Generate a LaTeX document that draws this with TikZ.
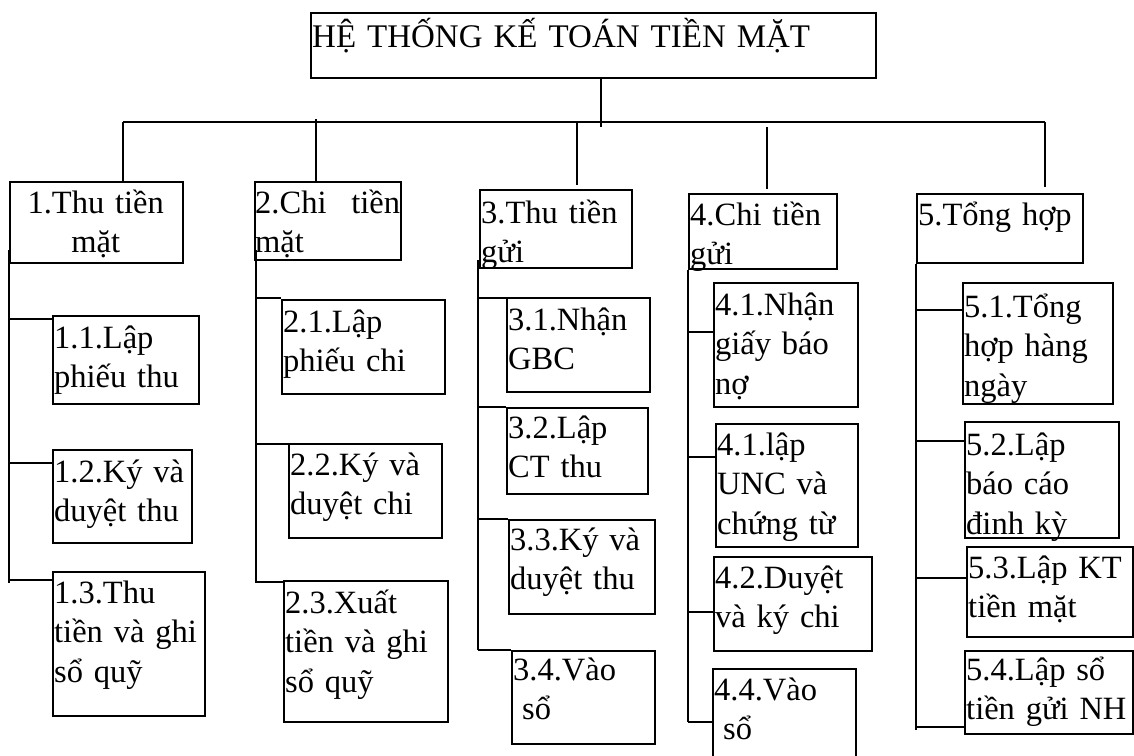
\documentclass[tikz,border=0pt]{standalone}
\usepackage{fontspec}
\setmainfont{Liberation Serif}
\newcommand\fs{\fontsize{32.5}{39.5}\selectfont}
\tikzset{
  box/.style={draw, line width=1.7pt, inner sep=0pt},
  txt/.style={anchor=base west, inner sep=0pt, text width=220pt, align=left, font=\fs},
  con/.style={line width=1.7pt}
}
% name, x1, y1, x2, y2, trunk, connector y, baseline, text
\newcommand\sub[9]{%
  \node[box, anchor=north west, minimum width={#4-#2}, minimum height={#5-#3}] (#1) at (#2,#3) {};
  \node[txt] (#1t) at ({#2+2},#8) {#9};
  \draw[con] (#6 |- 0,#7) -- (#1.west |- 0,#7);
}
\newcommand\topbox[5]{%
  \node[box, anchor=north west, minimum width={#4-#2}, minimum height={#5-#3}] (#1) at (#2,#3) {};
}
\begin{document}
\begin{tikzpicture}[x=1pt,y=-1pt]
\useasboundingbox (0,0) rectangle (1134,755);
% title
\topbox{title}{310}{12}{875}{77}
\node[txt, text width=560pt, font=\fontsize{33}{39}\selectfont] (titlet) at (312,47) {HỆ THỐNG KẾ TOÁN TIỀN MẶT};
% level 1 boxes
\topbox{p1}{9}{181}{182}{262}
\node[txt, text width=173pt, align=center] (p1t) at (9,213) {1.Thu tiền\\mặt};
\topbox{p2}{254}{181}{400}{259}
\node[txt] (p2t) at (255,213) {2.Chi\hspace{14pt} tiền\\mặt};
\topbox{p3}{479}{189}{631}{267}
\node[txt] (p3t) at (481,223) {3.Thu tiền\\gửi};
\topbox{p4}{688}{193}{836}{268}
\node[txt] (p4t) at (690,225) {4.Chi tiền\\gửi};
\topbox{p5}{916}{193}{1082}{262}
\node[txt] (p5t) at (918,225) {5.Tổng hợp};
% top connectors
\coordinate (jt) at (601,127);
\coordinate (j1) at (123,122);
\coordinate (j2) at (316,119);
\coordinate (j3) at (577,122);
\coordinate (j4) at (767,127);
\coordinate (j5) at (1045,122);
\coordinate (e3) at (577,185);
\coordinate (e4) at (767,189);
\coordinate (e5) at (1045,187);
\draw[con] (jt |- title.south) -- (jt);
\draw[con] (j1) -- (j5);
\draw[con] (j1) -- (j1 |- p1.north);
\draw[con] (j2) -- (j2 |- p2.north);
\draw[con] (j3) -- (e3);
\draw[con] (j4) -- (e4);
\draw[con] (j5) -- (e5);
% trunks
\coordinate (k1) at (9,583);
\coordinate (k2) at (256,583);
\coordinate (k3) at (478,650);
\coordinate (k4) at (688,722);
\coordinate (k5) at (916,730);
\draw[con] (k1 |- 0,250) -- (k1);
\draw[con] (k2 |- 0,250) -- (k2);
\draw[con] (k3 |- 0,260) -- (k3);
\draw[con] (k4 |- p4.south) -- (k4);
\draw[con] (k5 |- p5.south) -- (k5);
% column 1
\sub{b11}{52}{315}{198}{403}{k1}{319}{348}{1.1.Lập\\phiếu thu}
\sub{b12}{52}{449}{191}{542}{k1}{463}{482}{1.2.Ký và\\duyệt thu}
\sub{b13}{52}{571}{204}{715}{k1}{580}{603}{1.3.Thu\\tiền và ghi\\sổ quỹ}
% column 2
\sub{b21}{281}{299}{444}{393}{k2}{298}{332}{2.1.Lập\\phiếu chi}
\sub{b22}{288}{443}{441}{537}{k2}{444}{475}{2.2.Ký và\\duyệt chi}
\sub{b23}{283}{580}{447}{721}{k2}{582}{613}{2.3.Xuất\\tiền và ghi\\sổ quỹ}
% column 3
\sub{b31}{506}{297}{649}{391}{k3}{298}{330}{3.1.Nhận\\GBC}
\sub{b32}{506}{407}{647}{493}{k3}{407}{438}{3.2.Lập\\CT thu}
\sub{b33}{508}{519}{654}{613}{k3}{519}{550}{3.3.Ký và\\duyệt thu}
\sub{b34}{511}{650}{654}{743}{k3}{650}{680}{3.4.Vào\\\hspace*{9pt}sổ}
% column 4
\sub{b41}{713}{282}{857}{406}{k4}{332}{315}{4.1.Nhận\\giấy báo\\nợ}
\sub{b42}{715}{423}{857}{546}{k4}{457}{455}{4.1.lập\\UNC và\\chứng từ}
\sub{b43}{713}{556}{871}{650}{k4}{612}{588}{4.2.Duyệt\\và ký chi}
\sub{b44}{712}{668}{855}{756}{k4}{722}{700}{4.4.Vào\\\hspace*{9pt}sổ}
% column 5
\sub{b51}{962}{282}{1112}{403}{k5}{310}{317}{5.1.Tổng\\hợp hàng\\ngày}
\sub{b52}{964}{421}{1118}{537}{k5}{441}{455}{5.2.Lập\\báo cáo\\đinh kỳ}
\sub{b53}{966}{546}{1132}{636}{k5}{578}{578}{5.3.Lập KT\\tiền mặt}
\sub{b54}{964}{650}{1132}{733}{k5}{727}{680}{5.4.Lập sổ\\tiền gửi NH}
\end{tikzpicture}
\end{document}
